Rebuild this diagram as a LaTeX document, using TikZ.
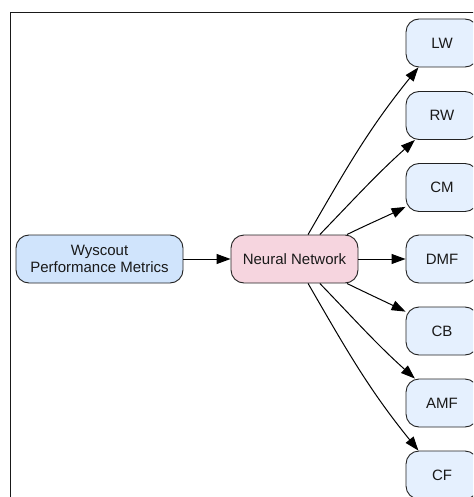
\documentclass[tikz,border=0pt]{standalone}
\usepackage{fontspec}
\setmainfont{Liberation Sans}
\usetikzlibrary{arrows.meta}
\definecolor{wyfill}{HTML}{D0E4FC}
\definecolor{nnfill}{HTML}{F6D5DF}
\definecolor{posfill}{HTML}{E5F0FE}
\definecolor{edgecol}{HTML}{222222}
\begin{document}
\begin{tikzpicture}[x=1pt,y=1pt,
  box/.style={draw=edgecol, line width=0.9pt, rounded corners=13pt,
    minimum height=48pt, inner sep=0pt, align=center,
    font=\fontsize{15}{17.5}\selectfont, text=black!90},
  posbox/.style={box, fill=posfill, minimum width=72pt},
  arr/.style={draw=black, line width=1pt, -{Triangle[length=14pt,width=10pt]}}
]
\useasboundingbox (0,0) rectangle (473,-497);
\clip (0,0) rectangle (473,-497);
\draw[line width=1.3pt, black!90] (10.5,-12.5) rectangle (530,-540);

\node[box, fill=wyfill, minimum width=167pt] (wy) at (99.5,-259) {Wyscout\\Performance Metrics};
\node[box, fill=nnfill, minimum width=127pt] (nn) at (294.5,-259) {Neural Network};

\node[posbox] (lw)  at (442,-43)  {LW};
\node[posbox] (rw)  at (442,-115.5) {RW};
\node[posbox] (cm)  at (442,-187.5) {CM};
\node[posbox] (dmf) at (442,-259) {DMF};
\node[posbox] (cb)  at (442,-331) {CB};
\node[posbox] (amf) at (442,-403) {AMF};
\node[posbox] (cf)  at (442,-475) {CF};

\draw[arr] (wy.east) -- (nn.west);
\draw[arr] (nn.east) -- (dmf.west);
\draw[arr] (nn.61) to[out=60,in=231] (lw.226);
\draw[arr] (nn.44) to[out=46,in=222] (rw.222);
\draw[arr] (nn.25) to[out=26,in=206] (cm.208);
\draw[arr] (nn.-25) to[out=-26,in=154] (cb.-208);
\draw[arr] (nn.-44) to[out=-46,in=138] (amf.-222);
\draw[arr] (nn.-61) to[out=-60,in=129] (cf.-226);
\end{tikzpicture}
\end{document}
